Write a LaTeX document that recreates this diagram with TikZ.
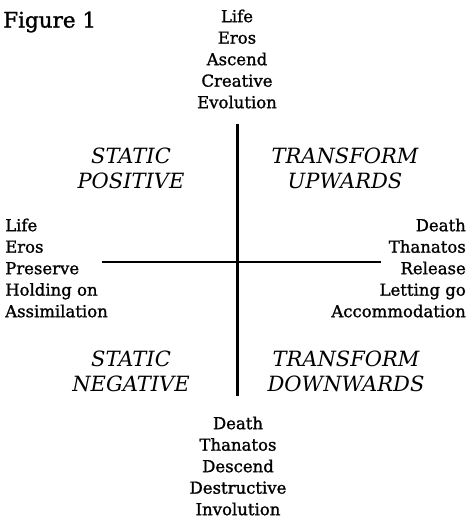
\documentclass[tikz,border=0pt]{standalone}
\usepackage{fontspec}
\setmainfont{DejaVu Serif}
\newfontfamily\heavyserif[FakeBold=1.2]{DejaVu Serif}
\begin{document}
\begin{tikzpicture}[x=1pt,y=-1pt,
  lst/.style={inner sep=0pt,font=\heavyserif\fontsize{16.5}{21.5}\selectfont},
  quad/.style={inner sep=0pt,align=center,font=\fontsize{21}{25}\selectfont\itshape},
  axis/.style={line width=3pt}]
\useasboundingbox[fill=white] (0,0) rectangle (468,523);
\node[inner sep=0pt,anchor=west,font=\heavyserif\fontsize{21.5}{25}\selectfont] (fig) at (3,22) {Figure 1};
\node[lst,align=center] (top) at (237,59) {Life\\Eros\\Ascend\\Creative\\Evolution};
\node[lst,align=left,anchor=west] (left) at (5,268) {Life\\Eros\\Preserve\\Holding on\\Assimilation};
\node[lst,align=right,anchor=east] (right) at (466,268) {Death\\Thanatos\\Release\\Letting go\\Accommodation};
\node[lst,align=center] (bot) at (238,466) {Death\\Thanatos\\Descend\\Destructive\\Involution};
\node[quad] (sp) at (131,168) {STATIC\\POSITIVE};
\node[quad] (tu) at (345,168) {TRANSFORM\\UPWARDS};
\node[quad] (sn) at (131,371) {STATIC\\NEGATIVE};
\node[quad] (td) at (346,371) {TRANSFORM\\DOWNWARDS};
\coordinate (vt) at (237,124);
\coordinate (vb) at (237,396);
\coordinate (hl) at (102,262);
\coordinate (hr) at (381,262);
\draw[axis] (vt) -- (vb);
\draw[line width=2.5pt] (hl) -- (hr);
\end{tikzpicture}
\end{document}
